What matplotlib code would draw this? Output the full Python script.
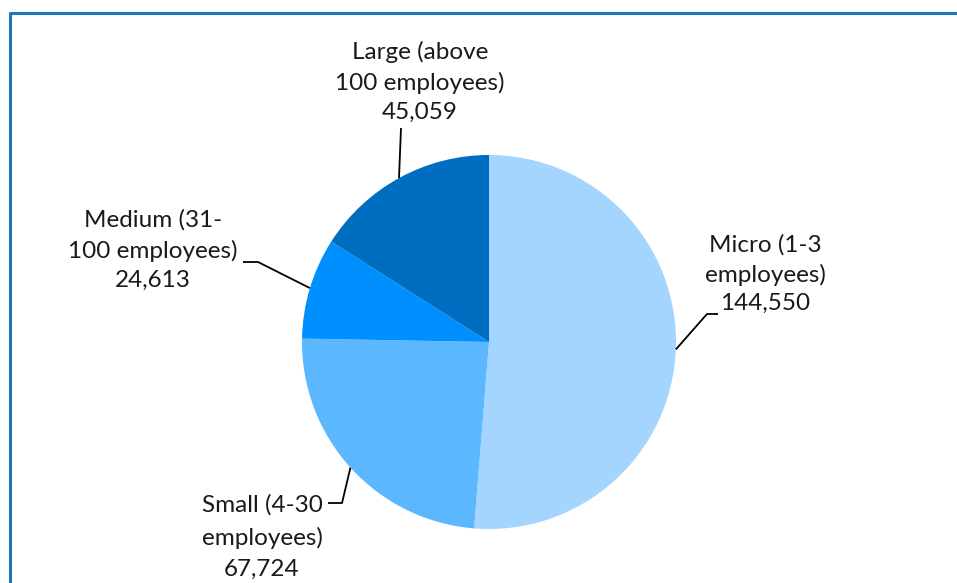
import numpy as np
import matplotlib.pyplot as plt

# Enterprises by size class
labels = ["Micro (1-3\nemployees)", "Small (4-30\nemployees)",
          "Medium (31-\n100 employees)", "Large (above\n100 employees)"]
values = [144550, 67724, 24613, 45059]
colors = ["#a3d5ff", "#5bb8ff", "#008fff", "#006ec0"]

W, H = 957, 583
fig = plt.figure(figsize=(W / 100, H / 100), dpi=100)
ax = fig.add_axes([0, 0, 1, 1])

cx, cy, r = 489, H - 342, 187
wedges, _ = ax.pie(values, colors=colors, startangle=90, counterclock=False,
                   center=(cx, cy), radius=r, frame=True,
                   wedgeprops=dict(linewidth=0))
ax.set_xlim(0, W)
ax.set_ylim(0, H)
ax.set_aspect("equal")
ax.axis("off")

# label text centres, line spacing and leader elbows (pixels from top-left)
text_pos = [(765, 274), (262, 537), (153, 250), (420, 82)]
spacing = [1.45, 1.6, 1.5, 1.48]
elbows = [[(707, 314), (718, 314)],
          [(342, 503), (328, 503)],
          [(258, 262), (243, 262)],
          [(401, 128)]]

for w, lab, v, (tx, ty), ls, el in zip(wedges, labels, values, text_pos,
                                       spacing, elbows):
    ang = np.deg2rad((w.theta1 + w.theta2) / 2)
    ex, ey = cx + r * np.cos(ang), cy + r * np.sin(ang)
    xs = [ex] + [p[0] for p in el]
    ys = [ey] + [H - p[1] for p in el]
    ax.plot(xs, ys, color="black", lw=1.3, solid_capstyle="butt")
    ax.text(tx, H - ty, f"{lab}\n{v:,}", ha="center", va="center",
            fontsize=17.5, family="Lato", color="#1a1a1a", linespacing=ls)

# chart frame
ax.plot([10, 10, W + 5], [-5, H - 13, H - 13], color="#1f74c0", lw=2.2)

fig.savefig("out.png", dpi=100)
